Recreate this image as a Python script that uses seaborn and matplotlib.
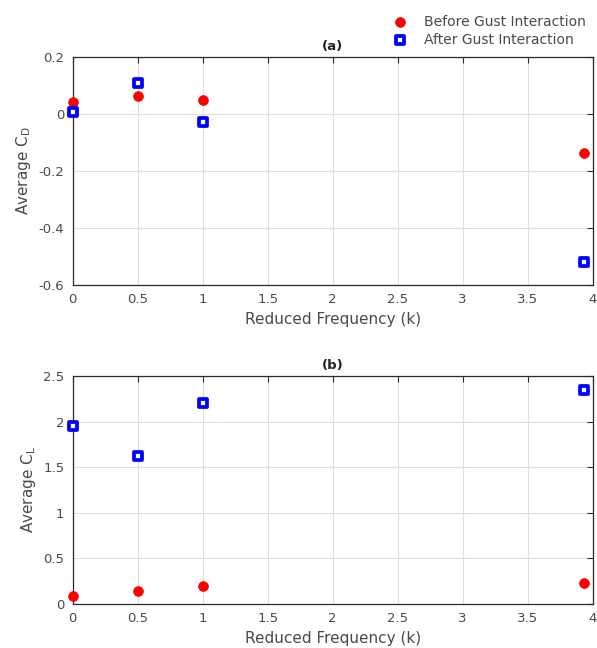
import matplotlib
matplotlib.use("Agg")
import matplotlib.pyplot as plt
import seaborn as sns
import pandas as pd

# Reduced frequency values
k_values = [0.0, 0.5, 1.0, 3.93]

# Average drag coefficient
cd_before = [0.042, 0.065, 0.050, -0.137]
cd_after = [0.007, 0.110, -0.028, -0.518]

# Average lift coefficient
cl_before = [0.088, 0.146, 0.200, 0.230]
cl_after = [1.955, 1.626, 2.204, 2.350]

series_names = ["Before Gust Interaction", "After Gust Interaction"]

sns.set_theme(style="white")
plt.rcParams["font.family"] = ["DejaVu Sans"]

TEXT = "#4a4a4a"
fig = plt.figure(figsize=(5.97, 6.48), dpi=100)
ax1 = fig.add_axes([0.1218, 0.5602, 0.871, 0.3514])
ax2 = fig.add_axes([0.1218, 0.0679, 0.871, 0.3519])


def draw(ax, before, after, ylabel, title, ylim, yticks, yticklabels):
    df_b = pd.DataFrame({"k": k_values, "v": before})
    df_a = pd.DataFrame({"k": k_values, "v": after})
    sns.scatterplot(data=df_b, x="k", y="v", ax=ax, marker="o", s=50,
                    color="#ff0000", edgecolor="#ff0000", linewidth=0.5,
                    label=series_names[0], zorder=3, clip_on=False)
    sns.scatterplot(data=df_a, x="k", y="v", ax=ax, marker="s", s=28,
                    facecolor="white", edgecolor="#0000ff", linewidth=2.7,
                    label=series_names[1], zorder=4, clip_on=False)
    ax.set_xlim(0, 4)
    ax.set_ylim(*ylim)
    ax.set_xticks([0, 0.5, 1, 1.5, 2, 2.5, 3, 3.5, 4])
    ax.set_xticklabels(["0", "0.5", "1", "1.5", "2", "2.5", "3", "3.5", "4"])
    ax.set_yticks(yticks)
    ax.set_yticklabels(yticklabels)
    ax.grid(True, color="#dedede", linewidth=0.8)
    ax.set_axisbelow(True)
    ax.tick_params(direction="in", top=True, right=True, length=4, width=0.8,
                   colors="#2a2a2a", labelcolor=TEXT, labelsize=9.5, pad=6)
    for sp in ax.spines.values():
        sp.set_visible(True)
        sp.set_color("#2a2a2a")
        sp.set_linewidth(0.9)
    ax.set_xlabel("Reduced Frequency (k)", color=TEXT, fontsize=11, labelpad=4)
    ax.set_ylabel(ylabel, color=TEXT, fontsize=11, labelpad=4)
    ax.set_title(title, fontweight="bold", fontsize=9.5, color="#222222", pad=5)
    ax.get_legend().remove()


draw(ax1, cd_before, cd_after, r"Average C$_\mathregular{D}$", "(a)",
     (-0.6, 0.2), [-0.6, -0.4, -0.2, 0, 0.2], ["-0.6", "-0.4", "-0.2", "0", "0.2"])
draw(ax2, cl_before, cl_after, r"Average C$_\mathregular{L}$", "(b)",
     (0, 2.5), [0, 0.5, 1, 1.5, 2, 2.5], ["0", "0.5", "1", "1.5", "2", "2.5"])

handles, labels = ax1.get_legend_handles_labels()
fig.legend(handles[:2], labels[:2], loc="upper right", bbox_to_anchor=(0.997, 0.992),
           frameon=False, fontsize=10, labelcolor=TEXT, handletextpad=1.1,
           borderaxespad=0.3, labelspacing=0.3, handlelength=1.2)

fig.savefig("out.png", dpi=100)
